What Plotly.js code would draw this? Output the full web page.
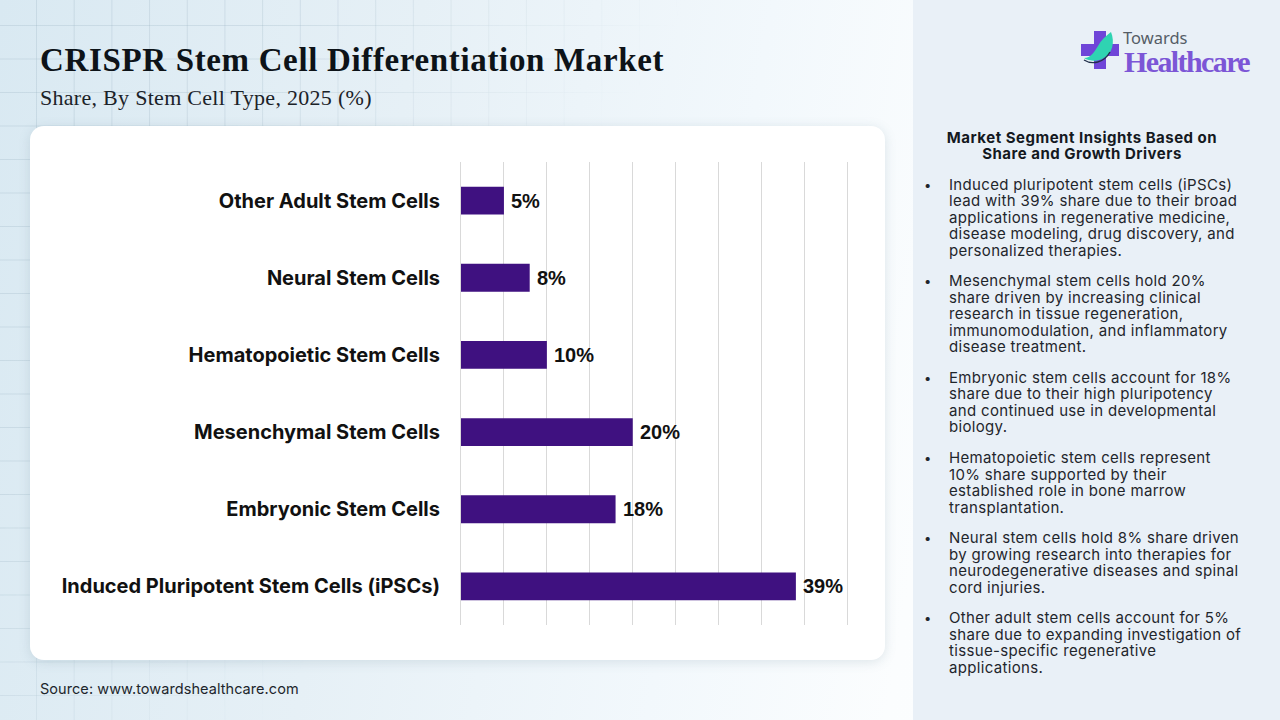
<!DOCTYPE html>
<html><head><meta charset="utf-8">
<script src="https://cdn.plot.ly/plotly-3.0.1.min.js"></script>
<style>
html,body{margin:0;padding:0;width:1280px;height:720px;overflow:hidden}
#bg{position:absolute;left:0;top:0;width:1280px;height:720px;background:linear-gradient(100deg,#d9e9f2 0%,#e6f0f6 30%,#f2f8fc 55%,#fbfdfe 72%,#ffffff 100%)}
#grid{position:absolute;left:0;top:0;width:913px;height:720px;
background-image:linear-gradient(to right,rgba(150,175,190,.26) 1px,transparent 1px),linear-gradient(to bottom,rgba(150,175,190,.26) 1px,transparent 1px);
background-size:37.7px 33.5px;background-position:-1.7px -8.5px;
-webkit-mask-image:linear-gradient(120deg,#000 0%,#000 22%,transparent 52%);mask-image:linear-gradient(120deg,#000 0%,#000 22%,transparent 52%)}
#panel{position:absolute;left:913px;top:0;width:367px;height:720px;background:#e9f0f7}
#card{position:absolute;left:30px;top:126px;width:855px;height:534px;background:#fff;border-radius:14px;box-shadow:0 2px 12px rgba(90,120,140,.18)}
#chart{position:absolute;left:0;top:0;width:1280px;height:720px;z-index:2}
#chart .gtitle{letter-spacing:.65px}
.t{position:absolute;z-index:3;white-space:nowrap}
#sub{left:40px;top:85px;font:400 22px "Liberation Serif";color:#1b2228;letter-spacing:.29px}
#src{left:40px;top:680px;font:400 14.5px "Inter";color:#1d262c;letter-spacing:.06px}
#head{left:913px;width:338px;top:129.5px;text-align:center;font:700 15px/16.8px "Inter";color:#14191f;letter-spacing:.5px}
#list{left:949px;top:176.5px;font:400 15px/16.5px "Inter";color:#1f262c;letter-spacing:.33px}
#list div{position:relative;margin-bottom:14.2px}
#list div:before{content:"•";position:absolute;left:-25px;font-size:13px}
#logo{position:absolute;left:1080px;top:28px;z-index:3}
#tw{left:1123px;top:29px;font:400 16.5px/18px "Noto Sans";color:#555d66}
#hc{left:1124px;top:48px;font:700 30px/28px "Liberation Serif";color:#7c56d6;letter-spacing:-1.6px}
</style></head><body>
<div id="bg"></div><div id="grid"></div><div id="panel"></div><div id="card"></div>
<div id="chart"></div>
<div class="t" id="sub">Share, By Stem Cell Type, 2025 (%)</div>
<div class="t" id="src">Source: www.towardshealthcare.com</div>
<svg id="logo" width="42" height="46" viewBox="0 0 42 46">
<path d="M14 3h12v13h13v12H26v13H14V28H1V16h13z" fill="#6f45d8"/>
<path d="M31 4C35 14 33 26 22 31 16 34 9 33 4 30 11 30 14 24 18 18 21 12 26 8 31 4z" fill="#2fd3b2"/>
<path d="M4 32C12 37 24 35 30 24" fill="none" stroke="#22304a" stroke-width="1.4"/>
</svg>
<div class="t" id="tw">Towards</div>
<div class="t" id="hc">Healthcare</div>
<div class="t" id="head">Market Segment Insights Based on<br>Share and Growth Drivers</div>
<div class="t" id="list"></div>
<script>
const categories = ["Induced Pluripotent Stem Cells (iPSCs)","Embryonic Stem Cells","Mesenchymal Stem Cells","Hematopoietic Stem Cells","Neural Stem Cells","Other Adult Stem Cells"];
const shares = [39,18,20,10,8,5];
const tickValues = [0,5,10,15,20,25,30,35,40,45];
const insights = [
"Induced pluripotent stem cells (iPSCs)<br>lead with 39% share due to their broad<br>applications in regenerative medicine,<br>disease modeling, drug discovery, and<br>personalized therapies.",
"Mesenchymal stem cells hold 20%<br>share driven by increasing clinical<br>research in tissue regeneration,<br>immunomodulation, and inflammatory<br>disease treatment.",
"Embryonic stem cells account for 18%<br>share due to their high pluripotency<br>and continued use in developmental<br>biology.",
"Hematopoietic stem cells represent<br>10% share supported by their<br>established role in bone marrow<br>transplantation.",
"Neural stem cells hold 8% share driven<br>by growing research into therapies for<br>neurodegenerative diseases and spinal<br>cord injuries.",
"Other adult stem cells account for 5%<br>share due to expanding investigation of<br>tissue-specific regenerative<br>applications."
];
document.getElementById('list').innerHTML = insights.map(s=>'<div>'+s+'</div>').join('');
Plotly.newPlot('chart',[{
  type:'bar',orientation:'h',y:categories,x:shares,
  marker:{color:'#3f1180',line:{width:0}},
  hoverinfo:'skip'
}],{
  width:1280,height:720,
  paper_bgcolor:'rgba(0,0,0,0)',plot_bgcolor:'rgba(0,0,0,0)',
  margin:{l:460.5,r:423.9,t:162,b:95,autoexpand:false},
  showlegend:false,bargap:0.64,
  title:{text:'CRISPR Stem Cell Differentiation Market',x:40/1280,xanchor:'left',y:1-59/720,yanchor:'middle',
    font:{family:'Liberation Serif',size:33,color:'#0d1318',weight:700}},
  xaxis:{range:[0,46],tickvals:tickValues,showticklabels:false,ticks:'',showgrid:true,gridcolor:'#d9d9d9',gridwidth:1,zeroline:false,showline:false,fixedrange:true},
  yaxis:{type:'category',categoryorder:'array',categoryarray:categories,ticks:'outside',ticklen:16,tickcolor:'rgba(0,0,0,0)',showgrid:false,zeroline:true,showline:true,linecolor:'#d9d9d9',linewidth:1,
    tickfont:{family:'Inter',size:20,color:'#111',weight:700},fixedrange:true},
  annotations:shares.map((v,i)=>({x:v,y:categories[i],xref:'x',yref:'y',text:v+'%',showarrow:false,xanchor:'left',xshift:5,yanchor:'middle',
    font:{family:'Liberation Sans',size:20,color:'#111',weight:700}}))
},{displayModeBar:false,staticPlot:true});
</script>
</body></html>
